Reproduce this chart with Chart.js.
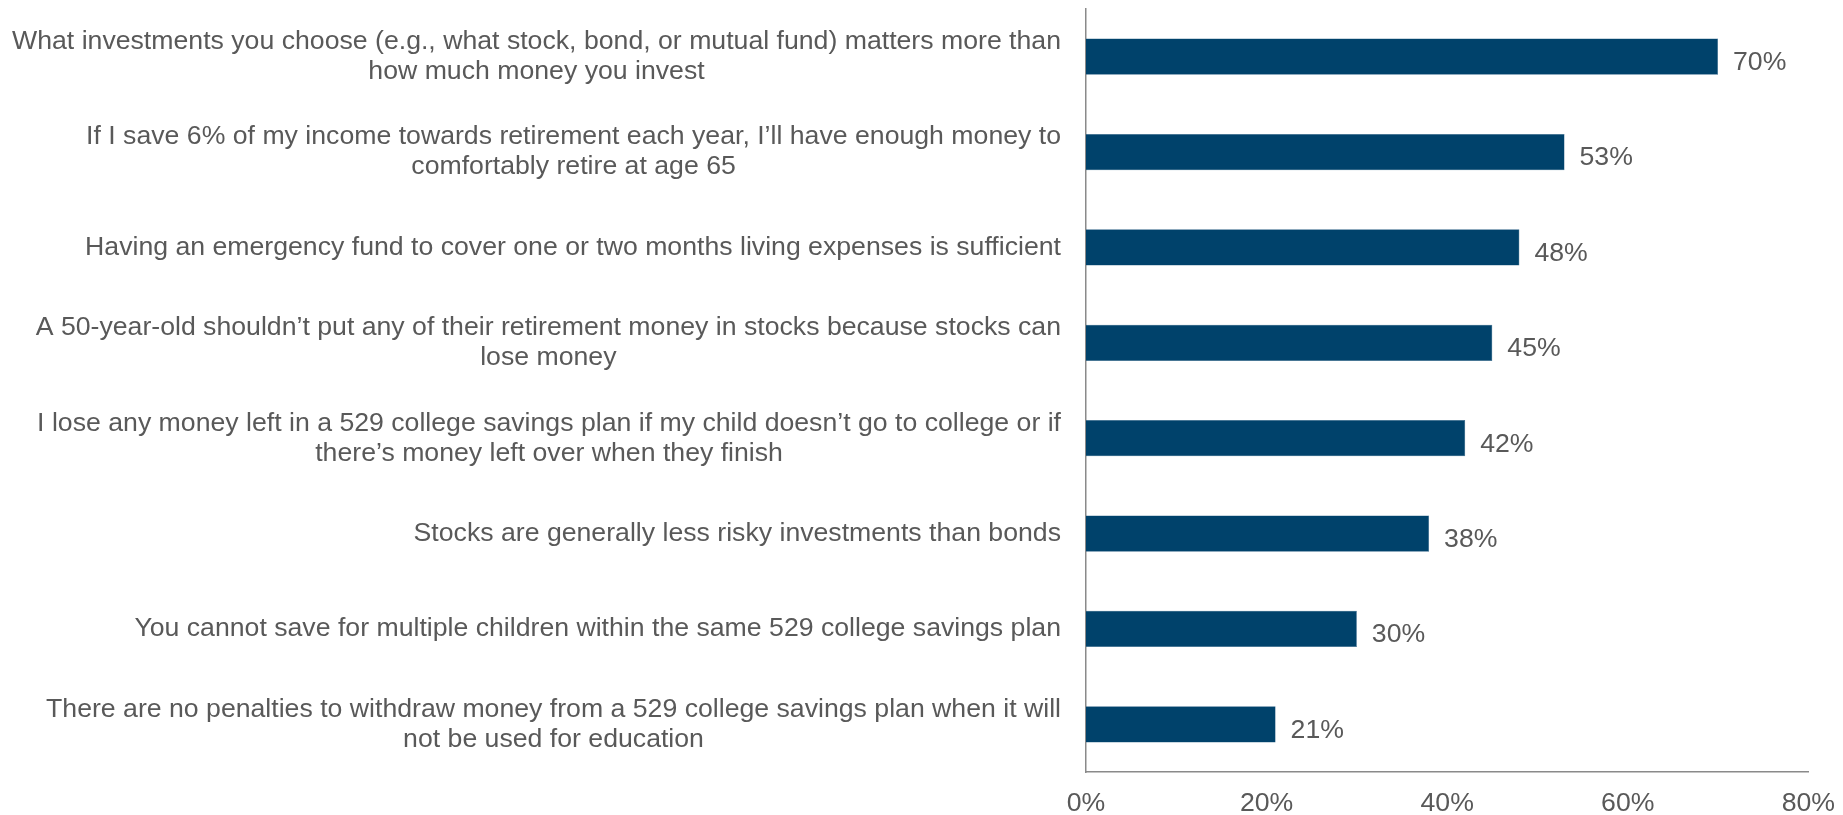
<!DOCTYPE html>
<html>
<head>
<meta charset="utf-8">
<script src="https://cdn.jsdelivr.net/npm/chart.js@4"></script>
<style>
  html, body { margin: 0; padding: 0; background: #fff; }
  #wrap { width: 1843px; height: 815px; }
</style>
</head>
<body>
<div id="wrap"><canvas id="myChart" width="1843" height="815"></canvas></div>
<script>
// categories (each one split in lines like the original)
const categories = [
  ["What investments you choose (e.g., what stock, bond, or mutual fund) matters more than", "how much money you invest"],
  ["If I save 6% of my income towards retirement each year, I\u2019ll have enough money to", "comfortably retire at age 65"],
  ["Having an emergency fund to cover one or two months living expenses is sufficient"],
  ["A 50-year-old shouldn\u2019t put any of their retirement money in stocks because stocks can", "lose money"],
  ["I lose any money left in a 529 college savings plan if my child doesn\u2019t go to college or if", "there\u2019s money left over when they finish"],
  ["Stocks are generally less risky investments than bonds"],
  ["You cannot save for multiple children within the same 529 college savings plan"],
  ["There are no penalties to withdraw money from a 529 college savings plan when it will", "not be used for education"]
];
const values = [70, 53, 48, 45, 42, 38, 30, 21];
const tickValues = [0, 20, 40, 60, 80];

const textColor = "#595959";
const fontFamily = "'Liberation Sans', Arial, sans-serif";
const fontSize = 26.67;

// draw the category labels: block right aligned, lines centered inside the block
const catLabels = {
  id: "catLabels",
  afterDraw(chart) {
    const ctx = chart.ctx;
    const y = chart.scales.y;
    const right = chart.chartArea.left - 25;
    ctx.save();
    ctx.font = fontSize + "px " + fontFamily;
    ctx.fillStyle = textColor;
    ctx.textAlign = "center";
    ctx.textBaseline = "middle";
    const lineH = 30;
    categories.forEach(function (lines, i) {
      const cy = y.getPixelForValue(i);
      let w = 0;
      lines.forEach(function (l) { w = Math.max(w, ctx.measureText(l).width); });
      const cx = right - w / 2;
      const y0 = cy - (lines.length - 1) * lineH / 2;
      lines.forEach(function (l, k) { ctx.fillText(l, cx, y0 + k * lineH); });
    });
    ctx.restore();
  }
};

// value labels at the end of each bar
const valueLabels = {
  id: "valueLabels",
  afterDatasetsDraw(chart) {
    const ctx = chart.ctx;
    const meta = chart.getDatasetMeta(0);
    ctx.save();
    ctx.font = fontSize + "px " + fontFamily;
    ctx.fillStyle = textColor;
    ctx.textAlign = "left";
    ctx.textBaseline = "middle";
    meta.data.forEach(function (bar, i) {
      ctx.fillText(values[i] + "%", bar.x + 15, bar.y + 6);
    });
    ctx.restore();
  }
};

document.addEventListener("DOMContentLoaded", function () {
  const ctx = document.getElementById("myChart").getContext("2d");
  new Chart(ctx, {
    type: "bar",
    data: {
      labels: categories.map(function (c) { return c.join(" "); }),
      datasets: [{
        data: values,
        backgroundColor: "#00426B",
        borderColor: "#2a5f85",
        borderWidth: 0.5,
        categoryPercentage: 1,
        barPercentage: 0.38
      }]
    },
    options: {
      indexAxis: "y",
      responsive: false,
      animation: false,
      layout: { padding: { top: 9, right: 34, bottom: 0, left: 0 } },
      plugins: {
        legend: { display: false },
        tooltip: { enabled: false }
      },
      scales: {
        x: {
          min: 0,
          max: 80,
          afterBuildTicks(scale) {
            scale.ticks = tickValues.map(function (v) { return { value: v }; });
          },
          afterFit(scale) { scale.height = 43; },
          grid: { display: false },
          border: { display: true, color: "#8a8a8a", width: 1.5 },
          ticks: {
            padding: 8,
            color: textColor,
            font: { family: fontFamily, size: fontSize },
            callback: function (v) { return v + "%"; }
          }
        },
        y: {
          grid: { display: false },
          border: { display: true, color: "#8a8a8a", width: 1.5 },
          ticks: { display: false },
          afterFit(scale) { scale.width = 1086; }
        }
      }
    },
    plugins: [catLabels, valueLabels]
  });
});
</script>
</body>
</html>
